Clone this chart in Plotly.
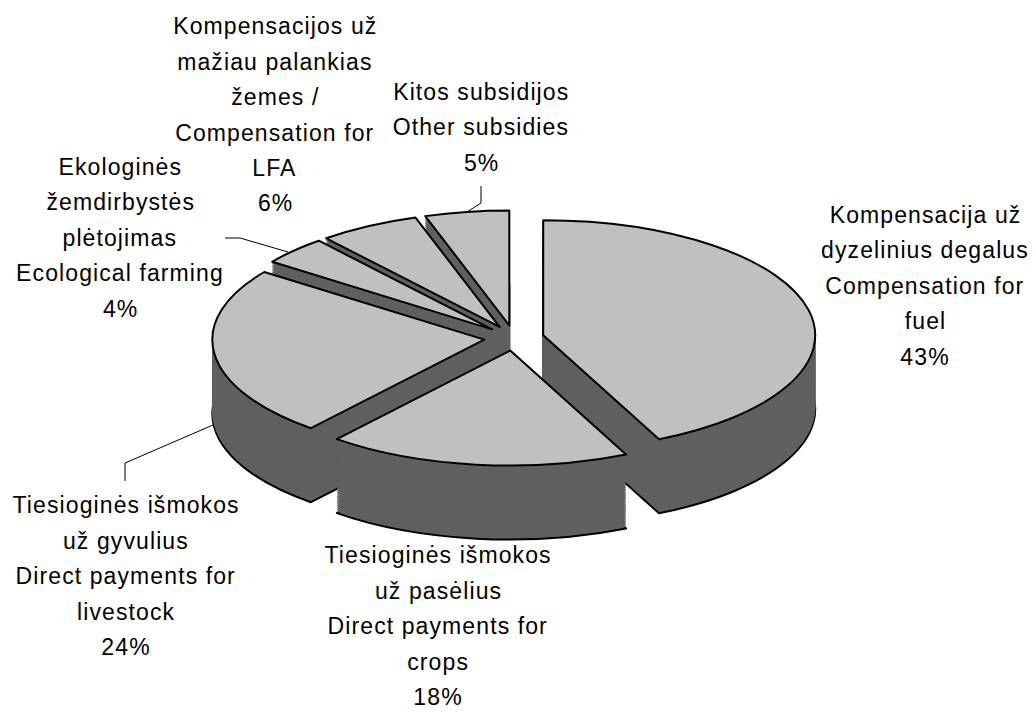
import plotly.graph_objects as go

# ---------------- data ----------------
categories = [
    "Kompensacija už dyzelinius degalus / Compensation for fuel",
    "Tiesioginės išmokos už pasėlius / Direct payments for crops",
    "Tiesioginės išmokos už gyvulius / Direct payments for livestock",
    "Ekologinės žemdirbystės plėtojimas / Ecological farming",
    "Kompensacijos už mažiau palankias žemes / Compensation for LFA",
    "Kitos subsidijos / Other subsidies",
]
values = [43, 18, 24, 4, 6, 5]
label_lines = [
    ["Kompensacija už", "dyzelinius degalus", "Compensation for", "fuel"],
    ["Tiesioginės išmokos", "už pasėlius", "Direct payments for", "crops"],
    ["Tiesioginės išmokos", "už gyvulius", "Direct payments for", "livestock"],
    ["Ekologinės", "žemdirbystės", "plėtojimas", "Ecological farming"],
    ["Kompensacijos už", "mažiau palankias", "žemes /", "Compensation for", "LFA"],
    ["Kitos subsidijos", "Other subsidies"],
]

# ---------------- layout / style ----------------
W, H = 1034, 713
TOP_COLOR = "#C0C0C0"
SIDE_COLOR = "#606060"
PULL = 0.11
FONT = "Liberation Sans, Arial, sans-serif"
FONT_SIZE = 23
LINE_PITCH = 35.5

# label block positions (center x, first line y) in pixels
label_pos = [(925, 215), (438, 555), (126, 505), (120, 167), (275, 26), (481, 92)]

# target ellipse geometry on screen
CX, CY = 514, 338
RX, RY = 272, 115
DEPTH = 74

# unsquashed pie in plotly (square domain)
S = 440
cx0, cy0 = 514, 250
r0 = (S / 2) / (1 + PULL)
sx = RX / r0
sy = RY / r0
depth_unsq = DEPTH / sy
N = 40


def dom(cx, cy):
    return dict(x=[(cx - S / 2) / W, (cx + S / 2) / W],
                y=[1 - (cy + S / 2) / H, 1 - (cy - S / 2) / H])


fig = go.Figure()
pulls = [PULL] * len(values)
for k in range(N, 0, -1):
    off = depth_unsq * k / N
    deepest = (k == N)
    fig.add_trace(go.Pie(
        labels=categories, values=values, sort=False, direction="clockwise",
        rotation=0, pull=pulls, textinfo="none", hoverinfo="skip",
        showlegend=False, domain=dom(cx0, cy0 + off),
        marker=dict(colors=[SIDE_COLOR] * len(values),
                    line=dict(color="black" if deepest else SIDE_COLOR,
                              width=2 if deepest else 0.5)),
    ))
fig.add_trace(go.Pie(
    labels=categories, values=values, sort=False, direction="clockwise",
    rotation=0, pull=pulls, textinfo="none", hoverinfo="skip",
    showlegend=False, domain=dom(cx0, cy0),
    marker=dict(colors=[TOP_COLOR] * len(values), line=dict(color="black", width=2)),
))

annotations = []
for lines, v, (lx, ly) in zip(label_lines, values, label_pos):
    for i, t in enumerate(lines + [f"{v}%"]):
        annotations.append(dict(
            text=t, x=lx / W, y=1 - (ly + i * LINE_PITCH) / H, xref="paper", yref="paper",
            xanchor="center", yanchor="middle", showarrow=False,
            font=dict(family=FONT, size=FONT_SIZE, color="black"),
        ))

# leader lines (pixel polylines)
leaders = [
    [(481, 186), (481, 203), (467, 212)],
    [(225, 238), (240, 238), (288, 252)],
    [(125, 481), (125, 463), (213, 425)],
]
shapes = []
for pts in leaders:
    path = "M " + " L ".join(f"{x / W:.5f},{1 - y / H:.5f}" for x, y in pts)
    shapes.append(dict(type="path", path=path, xref="paper", yref="paper",
                       line=dict(color="black", width=1)))

fig.update_layout(
    width=W, height=H, margin=dict(l=0, r=0, t=0, b=0),
    paper_bgcolor="white", plot_bgcolor="white",
    annotations=annotations, shapes=shapes,
)

tx = CX - sx * cx0
ty = CY - sy * cy0
post = """
document.body.style.margin = '0';
var gd = document.getElementById('{plot_id}');
function fix3d() {
  var layer = gd.querySelector('.pielayer');
  if (layer) {
    layer.setAttribute('transform', 'matrix(%f,0,0,%f,%f,%f)');
    layer.querySelectorAll('path').forEach(function (p) { p.style.vectorEffect = 'non-scaling-stroke'; });
  }
  gd.querySelectorAll('.annotation-text').forEach(function (t) { t.style.letterSpacing = '1.1px'; });
}
fix3d();
gd.on('plotly_afterplot', fix3d);
""" % (sx, sy, tx, ty)

fig.write_html("out.html", config={"displayModeBar": False}, post_script=post)
